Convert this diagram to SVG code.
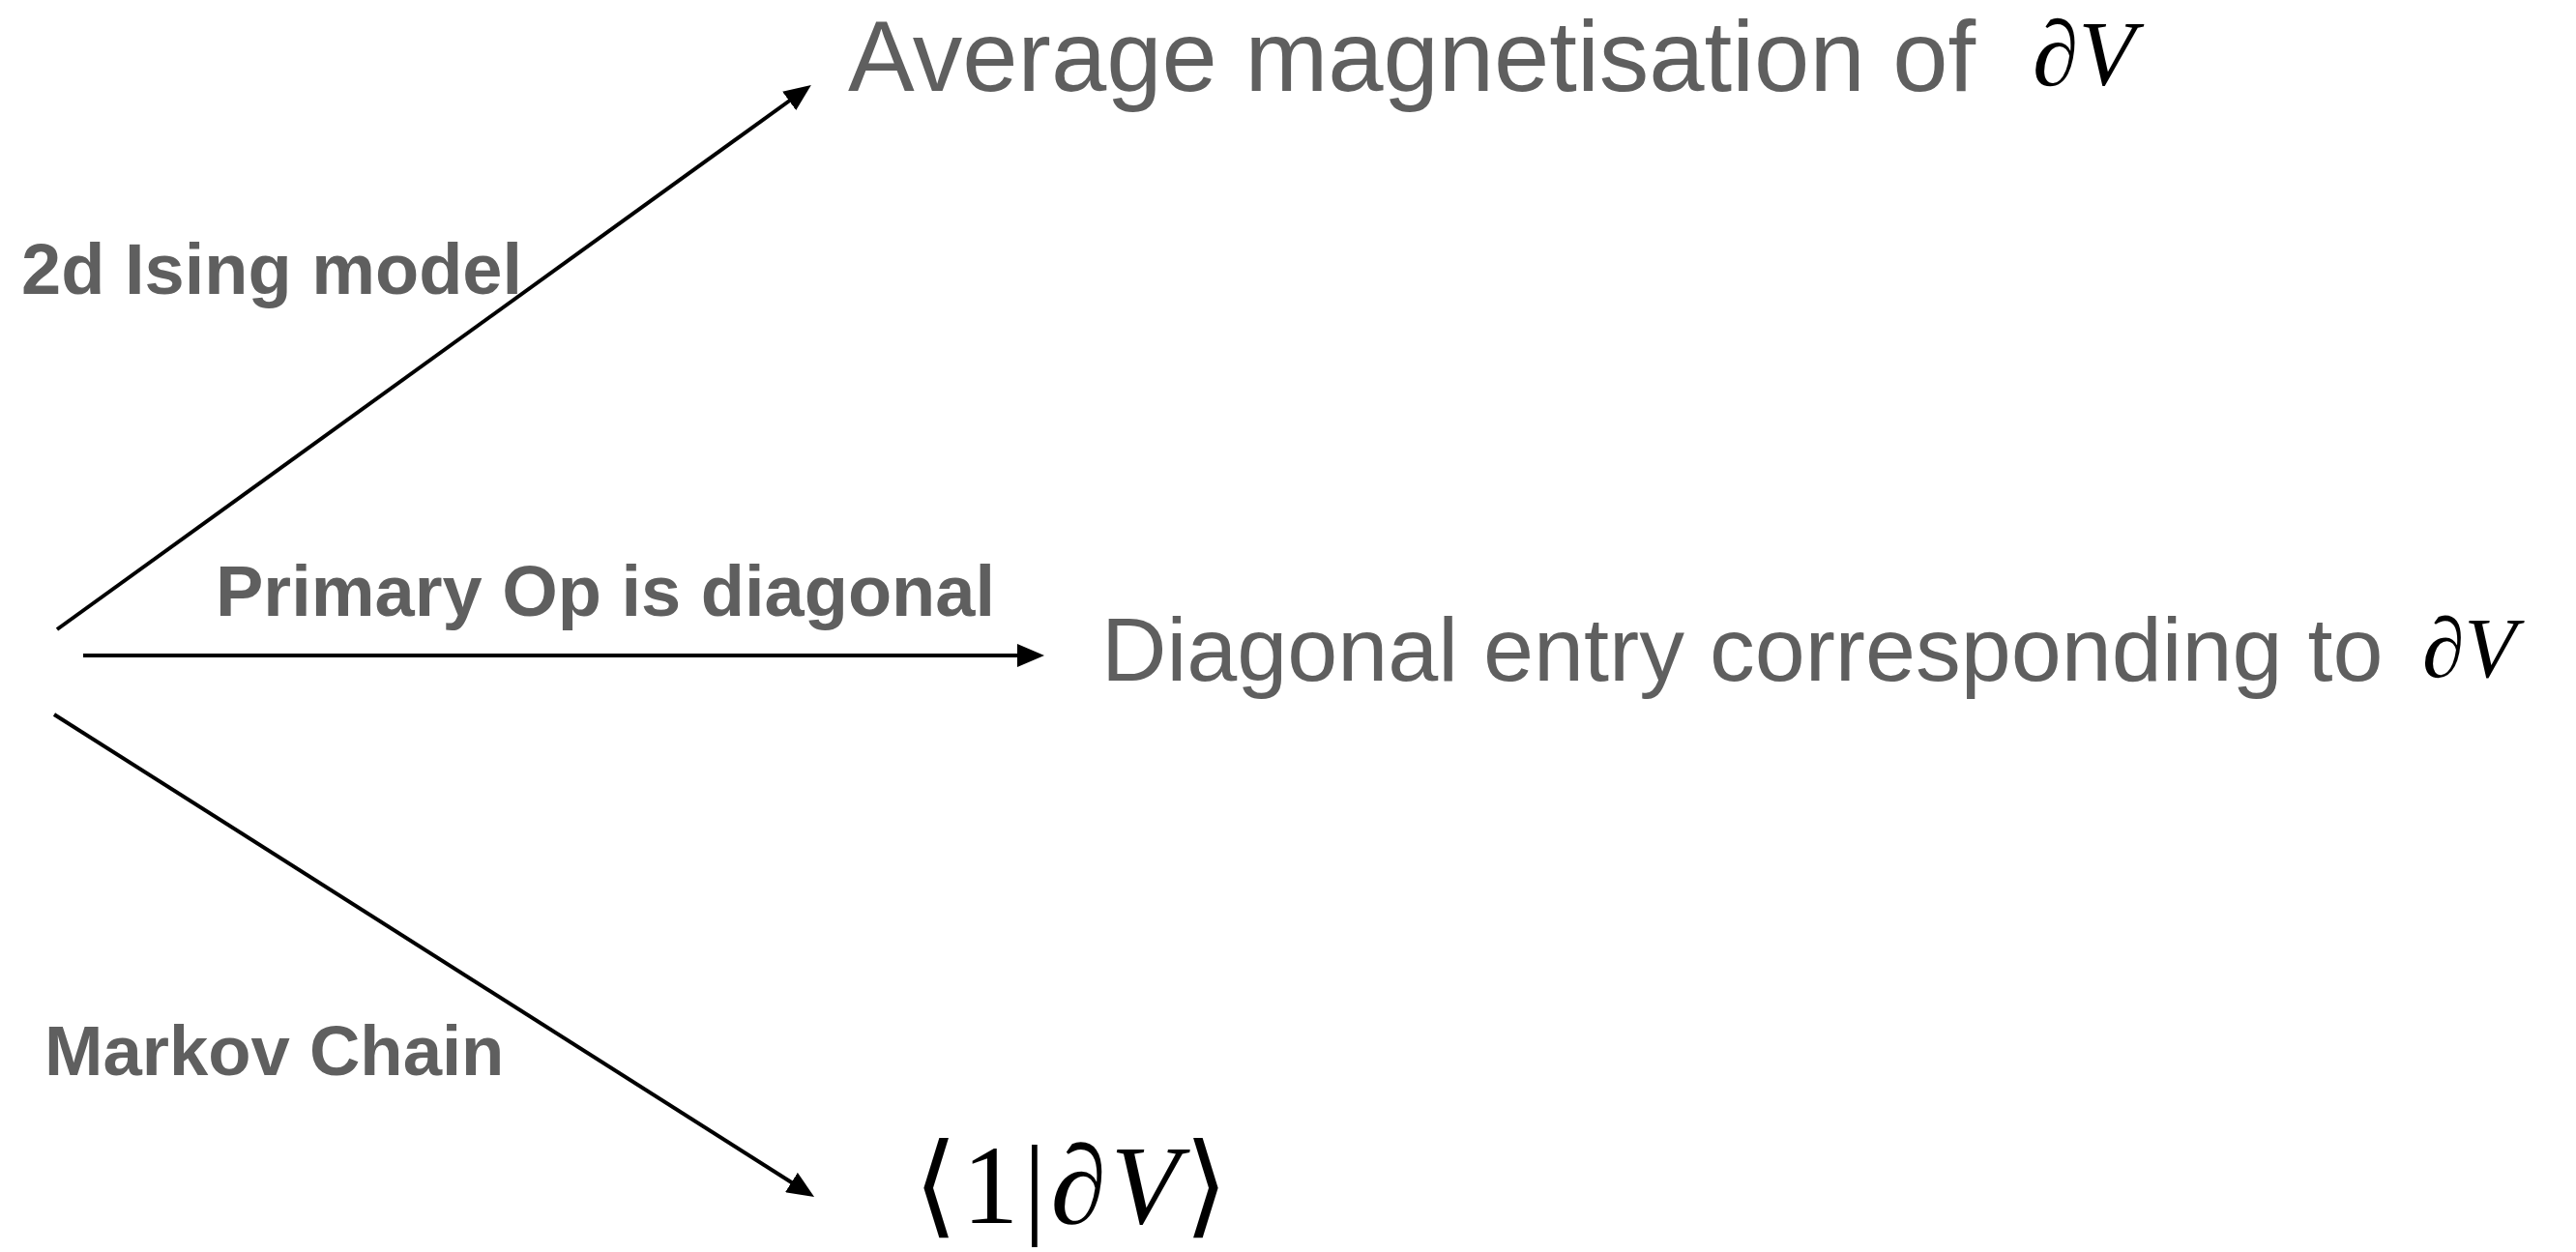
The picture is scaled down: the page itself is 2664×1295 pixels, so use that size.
<svg xmlns="http://www.w3.org/2000/svg" width="2664" height="1295" viewBox="0 0 2664 1295">
<style>
.big{font-family:"Liberation Sans",Arial,sans-serif;fill:#5f5f5f}
.lbl{font-family:"Liberation Sans",Arial,sans-serif;font-weight:bold;fill:#5f5f5f;font-size:74px}
.math{font-family:"Liberation Serif","DejaVu Serif",serif;fill:#000}
.conn{stroke:#000;stroke-width:4;fill:none;marker-end:url(#ah)}
</style>
<defs>
<marker id="ah" markerUnits="strokeWidth" markerWidth="7" markerHeight="6" refX="5.5" refY="3" orient="auto">
<path d="M0,0 L7,3 L0,6 z" fill="#000"/>
</marker>
</defs>
<rect width="2664" height="1295" fill="#fff"/>
<g id="connectors">
<line class="conn" x1="59" y1="651" x2="834" y2="91.5"/>
<line class="conn" x1="86" y1="678" x2="1074" y2="678"/>
<line class="conn" x1="56" y1="739" x2="837" y2="1234.8"/>
</g>
<g id="label-ising"><text class="lbl" x="22" y="304">2d Ising model</text></g>
<g id="label-primary"><text class="lbl" x="223" y="637">Primary Op is diagonal</text></g>
<g id="label-markov"><text class="lbl" x="46" y="1112" style="font-size:72.5px">Markov Chain</text></g>
<g id="node-average">
<text class="big" x="877" y="94" font-size="103">Average magnetisation of</text>
<text class="math" x="2102" y="88" font-size="96" font-style="italic">∂V</text>
</g>
<g id="node-diagonal">
<text class="big" x="1139" y="704" font-size="93.5">Diagonal entry corresponding to</text>
<text class="math" x="2505" y="700" font-size="88" font-style="italic">∂V</text>
</g>
<g id="node-bracket">
<text class="math" x="945" y="1265" font-size="116" letter-spacing="5">⟨1|<tspan font-style="italic">∂V</tspan>⟩</text>
</g>
</svg>
